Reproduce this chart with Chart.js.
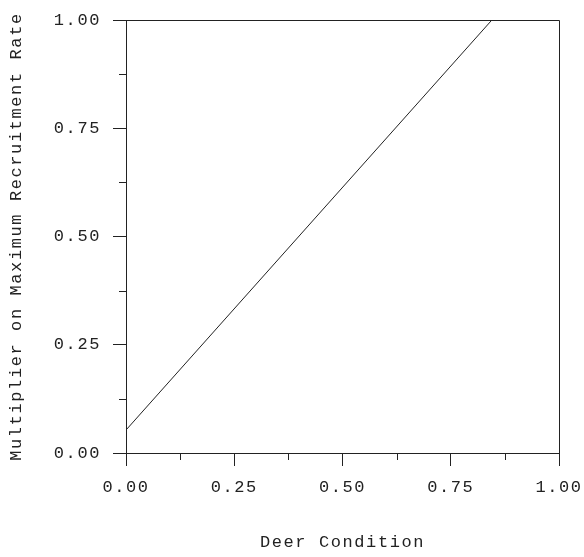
<!DOCTYPE html>
<html>
<head>
<meta charset="utf-8">
<script src="https://cdn.jsdelivr.net/npm/chart.js@4.4.0/dist/chart.umd.min.js"></script>
<style>
  html, body { margin: 0; padding: 0; background: #fff; }
  #wrap { width: 584px; height: 557px; }
</style>
</head>
<body>
<div id="wrap"><canvas id="myChart" width="584" height="557"></canvas></div>
<script>
// line: from (0, 0.053) to where it hits the top at x ~0.845
var conditionX = [0, 0.845]
var multiplierY = [0.053, 1.0]
var majorTicks = [0, 0.25, 0.5, 0.75, 1.0]
var minorTicks = [0.125, 0.375, 0.625, 0.875]

var FONT = "'Liberation Mono', 'Courier New', monospace"
var INK = '#222'

Chart.defaults.color = INK
Chart.defaults.font.family = FONT
Chart.defaults.font.size = 17

const isMajor = (v) => majorTicks.some(m => Math.abs(m - v) < 1e-6)

// the original font is a wide courier, so spread the letters a bit
const spacing = {
    id: 'spacing',
    beforeLayout(chart) { chart.ctx.letterSpacing = '1.6px' },
    beforeDraw(chart) { chart.ctx.letterSpacing = '1.6px' }
}

// box round the plot + the short in-between ticks
const frame = {
    id: 'frame',
    afterDraw(chart) {
        const { ctx, chartArea: a, scales } = chart
        ctx.save()
        ctx.strokeStyle = INK
        ctx.lineWidth = 1
        ctx.beginPath()
        ctx.moveTo(a.left, a.top + 0.5)
        ctx.lineTo(a.right + 0.5, a.top + 0.5)
        ctx.lineTo(a.right + 0.5, a.bottom)
        minorTicks.forEach(v => {
            let px = Math.round(scales.x.getPixelForValue(v)) + 0.5
            ctx.moveTo(px, a.bottom)
            ctx.lineTo(px, a.bottom + 7)
            let py = Math.round(scales.y.getPixelForValue(v)) + 0.5
            ctx.moveTo(a.left, py)
            ctx.lineTo(a.left - 7, py)
        })
        ctx.stroke()
        ctx.restore()
    }
}

// let the layout padding alone decide where the plot box sits
const noOverflow = (s) => {
    s.paddingLeft = 0
    s.paddingRight = 0
    s.paddingTop = 0
    s.paddingBottom = 0
}

const tickOpts = {
    min: 0,
    max: 1,
    ticks: {
        stepSize: 0.125,
        autoSkip: false,
        maxRotation: 0,
        callback: (v) => isMajor(v) ? v.toFixed(2) : ''
    },
    grid: {
        drawOnChartArea: false,
        tickLength: 13,
        tickColor: (c) => c.tick && isMajor(c.tick.value) ? INK : 'rgba(0,0,0,0)'
    },
    border: { color: INK, width: 1 }
}

var chart = new Chart(document.getElementById('myChart'), {
    type: 'scatter',
    data: {
        datasets: [{
            data: conditionX.map((x, i) => ({ x: x, y: multiplierY[i] })),
            showLine: true,
            borderColor: INK,
            borderWidth: 1,
            pointRadius: 0
        }]
    },
    options: {
        responsive: false,
        animation: false,
        layout: { padding: { top: 20, right: 25, left: 6, bottom: 4 } },
        plugins: {
            legend: { display: false },
            tooltip: { enabled: false }
        },
        scales: {
            x: Object.assign({}, tickOpts, {
                ticks: Object.assign({}, tickOpts.ticks, { padding: 11 }),
                title: { display: true, text: 'Deer Condition', padding: { top: 27, bottom: 0 } },
                afterFit: (s) => { s.height = 100; noOverflow(s) }
            }),
            y: Object.assign({}, tickOpts, {
                ticks: Object.assign({}, tickOpts.ticks, { padding: 12 }),
                title: { display: true, text: 'Multiplier on Maximum Recruitment Rate', padding: { top: 0, bottom: 13 } },
                afterFit: (s) => { s.width = 120; noOverflow(s) }
            })
        }
    },
    plugins: [spacing, frame]
})
</script>
</body>
</html>
